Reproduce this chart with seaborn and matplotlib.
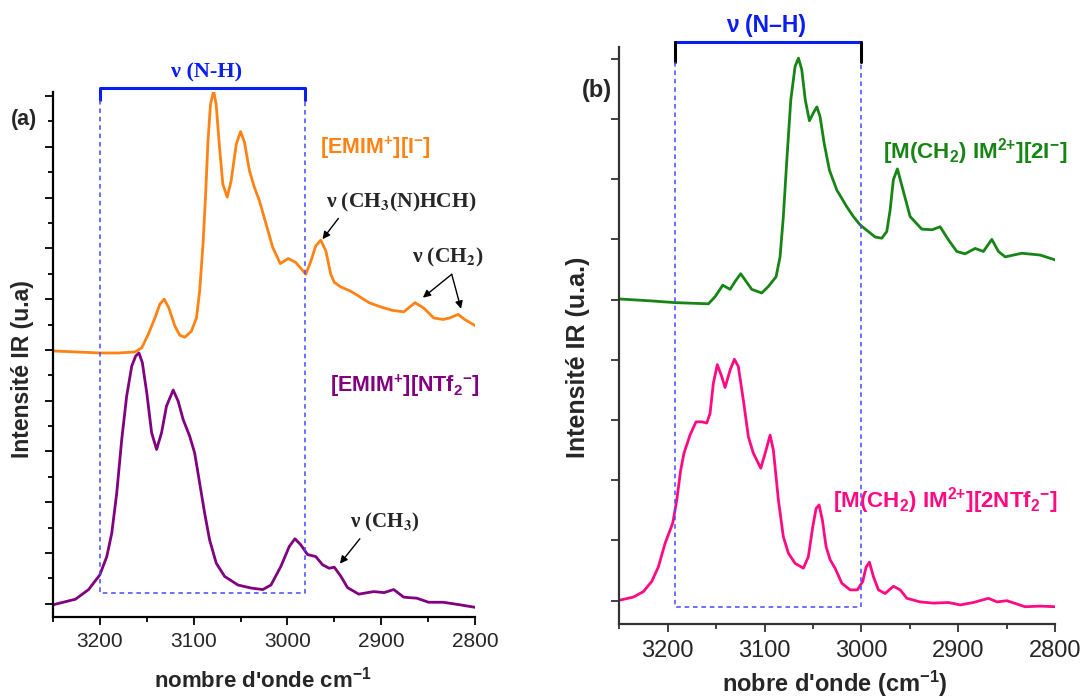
import matplotlib
matplotlib.use("Agg")
import matplotlib.pyplot as plt
from matplotlib.ticker import MultipleLocator
import seaborn as sns
import pandas as pd

# ---------------- data (a) ----------------
wn_emim_i = [3250, 3200, 3180, 3162.5, 3155.4, 3148.3, 3141.3, 3136, 3131.4, 3126.5, 3120, 3114.8,
             3109.5, 3102.4, 3097, 3093.6, 3090, 3087.2, 3084.7, 3082, 3078.7, 3076, 3072.4, 3068.8,
             3064.2, 3060, 3054.6, 3050, 3045.8, 3040.5, 3035.2, 3029.9, 3022.8, 3015.7, 3007.6,
             2999, 2991, 2985, 2980.4, 2975, 2969.8, 2964.5, 2959, 2953.8, 2950, 2943, 2933, 2924,
             2913, 2901, 2888.4, 2876, 2864, 2855, 2844, 2834, 2827, 2818, 2811, 2800]
int_emim_i = [4.98, 4.94, 4.94, 4.96, 5.04, 5.31, 5.63, 5.90, 6.00, 5.83, 5.47, 5.29,
              5.25, 5.37, 5.63, 6.16, 7.08, 8.07, 9.12, 9.84, 10.10, 9.84, 8.99, 8.26,
              8.01, 8.33, 9.05, 9.30, 9.09, 8.53, 8.20, 7.94, 7.48, 7.02, 6.70,
              6.80, 6.72, 6.59, 6.49, 6.75, 7.05, 7.16, 6.95, 6.49, 6.33, 6.24, 6.16, 6.06,
              5.93, 5.85, 5.78, 5.75, 5.93, 5.83, 5.63, 5.60, 5.63, 5.70, 5.60, 5.48]

wn_emim_ntf2 = [3250, 3226, 3212, 3200, 3192.6, 3187.3, 3182, 3176.7, 3171.4, 3166, 3161.8, 3158.3,
                3154.7, 3150, 3144.8, 3139.5, 3134.2, 3129, 3121.8, 3116.5, 3111.2, 3104.2, 3098.9,
                3093.6, 3088.3, 3083, 3075.9, 3067, 3052.8, 3038.7, 3026.3, 3017.5, 3006.9, 2998,
                2992, 2985.7, 2978.6, 2969.8, 2962.6, 2955.6, 2950, 2943, 2936, 2924, 2908, 2897,
                2886.7, 2876, 2862, 2849.5, 2834, 2816, 2800]
int_emim_ntf2 = [-0.02, 0.09, 0.28, 0.57, 0.93, 1.39, 2.18, 3.23, 4.09, 4.68, 4.88, 4.94,
                 4.75, 4.16, 3.37, 3.04, 3.37, 3.89, 4.21, 3.99, 3.63, 3.30, 2.97,
                 2.38, 1.79, 1.26, 0.80, 0.54, 0.37, 0.31, 0.28, 0.37, 0.74, 1.13,
                 1.28, 1.16, 0.97, 0.93, 0.77, 0.70, 0.72, 0.54, 0.32, 0.19, 0.24, 0.22,
                 0.28, 0.13, 0.11, 0.03, 0.03, -0.02, -0.07]

# ---------------- data (b) ----------------
wn_mim_2i = [3249.3, 3218.3, 3192.5, 3158, 3151, 3143.2, 3135.6, 3130.5, 3124.6, 3119, 3113.2,
             3102.9, 3096, 3088.1, 3084, 3080.6, 3077, 3072.9, 3068.5, 3065, 3061.6, 3058, 3053.7,
             3049.6, 3046, 3042.7, 3038.5, 3033, 3025.4, 3015, 3008.3, 3001.3, 2992.8, 2985.8,
             2978.9, 2973.8, 2970.3, 2967, 2962.8, 2958, 2949.7, 2937.6, 2927, 2918.7, 2910,
             2901.5, 2893, 2882.5, 2874, 2865.3, 2858.5, 2851.5, 2834.3, 2815.4, 2800]
int_mim_2i = [5.01, 4.98, 4.95, 4.93, 5.05, 5.24, 5.17, 5.30, 5.43, 5.30, 5.17,
              5.11, 5.22, 5.38, 5.71, 6.38, 7.32, 8.32, 8.87, 9.01, 8.82, 8.32, 7.97,
              8.10, 8.20, 8.04, 7.60, 7.15, 6.82, 6.54, 6.38, 6.24, 6.13, 6.04,
              6.02, 6.13, 6.49, 6.99, 7.17, 6.88, 6.38, 6.17, 6.16, 6.21, 5.99,
              5.80, 5.76, 5.85, 5.80, 6.00, 5.80, 5.71, 5.77, 5.74, 5.66]

wn_mim_2ntf2 = [3249.3, 3235.5, 3225.2, 3216.5, 3209.7, 3202.8, 3194.8, 3190.7, 3186.6, 3183.2,
                3177, 3170.8, 3164.9, 3159.7, 3156.3, 3152.9, 3148.8, 3144.2, 3140.8, 3135.6,
                3131.2, 3127.1, 3121.9, 3116.7, 3111.6, 3103.9, 3098.5, 3094.3, 3090.9, 3085.7,
                3080.6, 3075.4, 3068.5, 3059.9, 3054.8, 3050.2, 3046.8, 3043.7, 3040.3, 3036.5,
                3032.3, 3027.2, 3020.2, 3011.7, 3004.1, 2998.6, 2995.1, 2991.7, 2987.6, 2982.4,
                2975.5, 2966.9, 2960, 2953, 2939.4, 2925.6, 2910, 2898, 2884.3, 2868.8,
                2860, 2849.8, 2831, 2815.4, 2800]
int_mim_2ntf2 = [0.01, 0.06, 0.15, 0.32, 0.56, 0.95, 1.29, 1.67, 2.17, 2.45,
                 2.75, 2.97, 2.97, 2.95, 3.11, 3.61, 3.92, 3.72, 3.54, 3.83,
                 4.01, 3.89, 3.33, 2.72, 2.45, 2.20, 2.50, 2.75, 2.50, 1.67,
                 1.06, 0.79, 0.62, 0.54, 0.73, 1.23, 1.53, 1.59, 1.34, 0.90,
                 0.68, 0.54, 0.29, 0.18, 0.18, 0.32, 0.56, 0.64, 0.40, 0.18,
                 0.12, 0.24, 0.18, 0.04, -0.02, -0.04, -0.03, -0.07, -0.03, 0.04,
                 -0.02, 0.00, -0.10, -0.09, -0.10]

x_ticks = [3200, 3100, 3000, 2900, 2800]

# ---------------- style ----------------
sns.set_style("ticks")
plt.rcParams['font.family'] = ['Liberation Sans', 'DejaVu Sans']
plt.rcParams['mathtext.fontset'] = 'custom'
plt.rcParams['mathtext.rm'] = 'Liberation Sans:bold'
plt.rcParams['mathtext.bf'] = 'Liberation Sans:bold'
plt.rcParams['mathtext.it'] = 'Liberation Sans:bold'
plt.rcParams['mathtext.default'] = 'bf'

ORANGE = '#FF8214'
PURPLE = '#800080'
GREEN = '#168516'
PINK = '#FF0A82'
BLUE = '#0A1EF0'
DASH = '#4848FF'
SERIF = ['Liberation Serif', 'DejaVu Serif']

fig = plt.figure(figsize=(10.85, 6.97), dpi=100)
axa = fig.add_axes([0.0488, 0.1148, 0.3890, 0.7532])
axb = fig.add_axes([0.5708, 0.1043, 0.4016, 0.8287])

def line(ax, x, y, c):
    df = pd.DataFrame({'x': x, 'y': y})
    sns.lineplot(data=df, x='x', y='y', ax=ax, color=c, lw=2.0, estimator=None, sort=True,
                 solid_joinstyle='round', solid_capstyle='round')

line(axa, wn_emim_i, int_emim_i, ORANGE)
line(axa, wn_emim_ntf2, int_emim_ntf2, PURPLE)
line(axb, wn_mim_2i, int_mim_2i, GREEN)
line(axb, wn_mim_2ntf2, int_mim_2ntf2, PINK)

# ---------------- axes (a) ----------------
axa.set_xlim(3250, 2800)
axa.set_ylim(-0.26, 10.08)
axa.xaxis.set_major_locator(MultipleLocator(100))
axa.xaxis.set_minor_locator(MultipleLocator(50))
axa.yaxis.set_major_locator(MultipleLocator(1))
axa.yaxis.set_minor_locator(MultipleLocator(0.5))
axa.tick_params(axis='both', which='major', length=6, width=1.3, color='black')
axa.tick_params(axis='both', which='minor', length=3.5, width=1.3, color='black')
axa.tick_params(axis='x', labelsize=15, pad=5)
axa.tick_params(axis='y', labelleft=False)
axa.set_xticks(x_ticks)
for s in ['top', 'right']:
    axa.spines[s].set_visible(False)
for s in ['left', 'bottom']:
    axa.spines[s].set_linewidth(1.6)
    axa.spines[s].set_color('black')
axa.set_xlabel("nombre d'onde cm$^{-1}$", fontsize=16, fontweight='bold')
axa.set_ylabel("Intensité IR (u.a)", fontsize=16.5, fontweight='bold')
axa.xaxis.set_label_coords(0.498, -0.095)
axa.yaxis.set_label_coords(-0.045, 0.472)

# N-H bracket and dashed box (a)
axa.plot([3200, 3200, 2981, 2981], [9.92, 10.16, 10.16, 9.92], color=BLUE, lw=2.2, clip_on=False)
axa.plot([3200, 3200, 2981, 2981], [9.92, 0.21, 0.21, 9.92], color=DASH, lw=1.1,
         ls=(0, (3, 2.5)), clip_on=False)
axa.text(3086.5, 10.47, "ν (N-H)", color=BLUE, fontsize=16, fontweight='bold',
         family=SERIF, ha='center', va='center', clip_on=False)
axa.text(3280.6, 9.53, "(a)", fontsize=15.5, fontweight='bold', ha='center', va='center', clip_on=False)
axa.text(2965.5, 8.99, "[EMIM$^{+}$][I$^{-}$]", color=ORANGE, fontsize=15.5,
         fontweight='bold', ha='left', va='center')
axa.text(2954.7, 4.29, "[EMIM$^{+}$][NTf$_{2}$$^{-}$]", color=PURPLE, fontsize=15.5,
         fontweight='bold', ha='left', va='center')
axa.text(2959, 7.91, "ν (CH$_{3}$(N)HCH)", fontsize=15.5, fontweight='bold', family=SERIF,
         math_fontfamily='stix', ha='left', va='center')
axa.text(2867.2, 6.83, "ν (CH$_{2}$)", fontsize=15.5, fontweight='bold', family=SERIF,
         math_fontfamily='stix', ha='left', va='center')
axa.text(2933.4, 1.60, "ν (CH$_{3}$)", fontsize=15, fontweight='bold', family=SERIF,
         math_fontfamily='stix', ha='left', va='center')
ap = dict(arrowstyle='-|>', color='black', lw=1.0, mutation_scale=11, shrinkA=0, shrinkB=0)
axa.annotate("", xy=(2962.6, 7.18), xytext=(2945.7, 7.59), arrowprops=ap)
axa.annotate("", xy=(2855.6, 6.03), xytext=(2824.8, 6.49), arrowprops=ap)
axa.annotate("", xy=(2814.9, 5.81), xytext=(2824.8, 6.49), arrowprops=ap)
axa.annotate("", xy=(2944.0, 0.79), xytext=(2922.8, 1.28), arrowprops=ap)

# ---------------- axes (b) ----------------
axb.set_xlim(3250, 2800)
axb.set_ylim(-0.392, 9.20)
axb.xaxis.set_major_locator(MultipleLocator(100))
axb.xaxis.set_minor_locator(MultipleLocator(50))
axb.yaxis.set_major_locator(MultipleLocator(1))
axb.tick_params(axis='both', which='major', length=6, width=1.3, color='#333333')
axb.tick_params(axis='x', which='minor', length=3.5, width=1.3, color='#333333')
axb.tick_params(axis='x', labelsize=17, pad=5)
axb.tick_params(axis='y', labelleft=False)
axb.set_xticks(x_ticks)
for s in ['top', 'right']:
    axb.spines[s].set_visible(False)
for s in ['left', 'bottom']:
    axb.spines[s].set_linewidth(1.6)
    axb.spines[s].set_color('#333333')
axb.set_xlabel("nobre d'onde (cm$^{-1}$)", fontsize=17, fontweight='bold')
axb.set_ylabel("Intensité IR (u.a.)", fontsize=18, fontweight='bold')
axb.xaxis.set_label_coords(0.495, -0.077)
axb.yaxis.set_label_coords(-0.067, 0.463)

axb.plot([3192.5, 3000.6], [9.28, 9.28], color=BLUE, lw=2.2, clip_on=False)
axb.plot([3192.5, 3192.5], [9.28, 8.95], color='black', lw=2.2, clip_on=False)
axb.plot([3000.6, 3000.6], [9.28, 8.95], color='black', lw=2.2, clip_on=False)
axb.plot([3192.5, 3192.5, 3000.6, 3000.6], [8.95, -0.11, -0.11, 8.95], color=DASH, lw=1.1,
         ls=(0, (3, 2.5)), clip_on=False)
axb.text(3098.7, 9.56, "ν (N–H)", color=BLUE, fontsize=16.5, fontweight='bold',
         ha='center', va='center', clip_on=False)
axb.text(3273.3, 8.47, "(b)", fontsize=17, fontweight='bold', ha='center', va='center', clip_on=False)
axb.text(2977.9, 7.46, r"[M(CH$_{2}$) IM$^{\text{2+}}$][2I$^{-}$]", color=GREEN, fontsize=16.1,
         fontweight='bold', ha='left', va='center')
axb.text(3029.5, 1.67, r"[M(CH$_{2}$) IM$^{\text{2+}}$][2NTf$_{2}$$^{-}$]", color=PINK, fontsize=16.1,
         fontweight='bold', ha='left', va='center')

fig.savefig("out.png", dpi=100)
